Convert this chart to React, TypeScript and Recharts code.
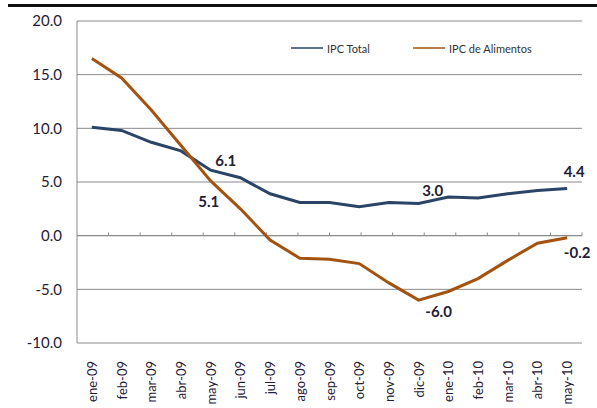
import { LineChart, Line, XAxis, YAxis, CartesianGrid, ReferenceLine, LabelList } from "recharts";

const months = [
  "ene-09", "feb-09", "mar-09", "abr-09", "may-09", "jun-09", "jul-09", "ago-09", "sep-09",
  "oct-09", "nov-09", "dic-09", "ene-10", "feb-10", "mar-10", "abr-10", "may-10",
];
const ipcTotal = [10.1, 9.8, 8.7, 7.9, 6.1, 5.4, 3.9, 3.1, 3.1, 2.7, 3.1, 3.0, 3.6, 3.5, 3.9, 4.2, 4.4];
const ipcAlimentos = [16.5, 14.7, 11.7, 8.4, 5.1, 2.5, -0.4, -2.1, -2.2, -2.6, -4.4, -6.0, -5.2, -4.0, -2.3, -0.7, -0.2];
const yTicks = [-10, -5, 0, 5, 10, 15, 20];

// months that carry a value label
const labeledTotal = ["may-09", "dic-09", "may-10"];
const labeledAlimentos = ["may-09", "dic-09", "may-10"];

const data = months.map((m, i) => ({ month: m, total: ipcTotal[i], alimentos: ipcAlimentos[i] }));
const tickMarks = months.map((_, i) => i + 1);

const TEXT = "#1f2035";
const FONT = "Lato, 'Liberation Sans', sans-serif";
const BLUE = "#2a4466";
const ORANGE = "#a4520f";

const offsTotal: Record<string, [number, number]> = {
  "may-09": [15, -10],
  "dic-09": [14, -13],
  "may-10": [7, -17],
};
const offsAlim: Record<string, [number, number]> = {
  "may-09": [-2, 20],
  "dic-09": [20, 11],
  "may-10": [10, 14],
};

function makeLabel(keys: string[], offs: Record<string, [number, number]>) {
  return (props: any) => {
    const { x, y, value, index } = props;
    const m = months[index];
    if (!keys.includes(m)) return null;
    const [dx, dy] = offs[m];
    return (
      <text x={x + dx} y={y + dy} textAnchor="middle" dominantBaseline="central" fontFamily={FONT} fontWeight={700} fontSize={15} fill={TEXT}>
        {Number(value).toFixed(1)}
      </text>
    );
  };
}

const renderMonthTick = (props: any) => {
  const { x, y, payload } = props;
  return (
    <g transform={`translate(${x},${y + 18})`}>
      <text x={0} y={0} transform="rotate(-90)" textAnchor="end" dominantBaseline="central" fontFamily={FONT} fontSize={13} fill={TEXT}>
        {payload.value}
      </text>
    </g>
  );
};

function LegendBox() {
  const items = [
    { name: "IPC Total", color: BLUE, x: 291 },
    { name: "IPC de Alimentos", color: ORANGE, x: 413 },
  ];
  return (
    <svg width={597} height={20} style={{ position: "absolute", left: 0, top: 38 }}>
      {items.map((it) => (
        <g key={it.name}>
          <line x1={it.x} x2={it.x + 32} y1={10} y2={10} stroke={it.color} strokeWidth={2} opacity={0.75} />
          <text x={it.x + 36} y={10} dominantBaseline="central" fontFamily={FONT} fontSize={11} fill="#333">
            {it.name}
          </text>
        </g>
      ))}
    </svg>
  );
}

export default function App() {
  return (
    <div style={{ position: "absolute", left: 0, top: 0, width: 597, height: 408, background: "#fff", overflow: "hidden" }}>
      <div style={{ position: "absolute", left: 8, top: 4, width: 589, height: 3, background: "#111" }} />
      <LineChart width={597} height={408} data={data} margin={{ top: 21, right: 15, bottom: 0, left: 0 }}>
        <CartesianGrid horizontal vertical={false} stroke="#8a8a8a" />
        <XAxis
          dataKey="month"
          interval={0}
          height={65}
          axisLine={false}
          tickLine={false}
          tickSize={0}
          tickMargin={0}
          padding={{ left: 14.85, right: 14.85 }}
          tick={renderMonthTick}
        />
        <XAxis xAxisId="num" type="number" domain={[0, 17]} hide />
        <YAxis
          domain={[-10, 20]}
          ticks={yTicks}
          width={77}
          tickFormatter={(v: number) => v.toFixed(1)}
          axisLine={{ stroke: "#8a8a8a" }}
          tickLine={false}
          tickSize={0}
          tickMargin={15}
          tick={{ fill: TEXT, fontSize: 15, fontFamily: FONT }}
        />
        <ReferenceLine y={0} stroke="#8a8a8a" />
        {tickMarks.map((k) => (
          <ReferenceLine
            key={k}
            xAxisId="num"
            segment={[{ x: k, y: 0 }, { x: k, y: 0.3 }]}
            stroke="#8a8a8a"
          />
        ))}
        <Line dataKey="total" name="IPC Total" stroke={BLUE} strokeWidth={3} dot={false} isAnimationActive={false}>
          <LabelList dataKey="total" content={makeLabel(labeledTotal, offsTotal)} />
        </Line>
        <Line dataKey="alimentos" name="IPC de Alimentos" stroke={ORANGE} strokeWidth={3} dot={false} isAnimationActive={false}>
          <LabelList dataKey="alimentos" content={makeLabel(labeledAlimentos, offsAlim)} />
        </Line>
      </LineChart>
      <LegendBox />
    </div>
  );
}
